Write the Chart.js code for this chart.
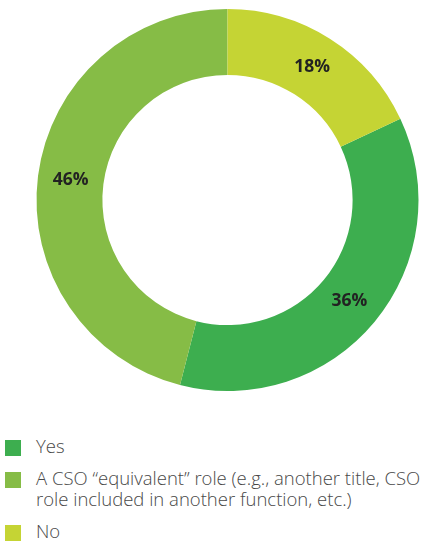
<!DOCTYPE html>
<html>
<head>
<meta charset="utf-8">
<script src="https://cdn.jsdelivr.net/npm/chart.js@4"></script>
<style>
    html, body {
        margin: 0;
        padding: 0;
        background: #ffffff;
    }
    body {
        width: 423px;
        height: 547px;
        overflow: hidden;
        font-family: "Open Sans", sans-serif;
    }
    #chart-box {
        position: relative;
        width: 423px;
        height: 400px;
    }
    #legend {
        list-style: none;
        margin: 0;
        padding: 0;
        position: absolute;
        left: 5px;
        top: 435px;
        width: 418px;
    }
    #legend li {
        display: flex;
        align-items: flex-start;
        margin-bottom: 11px;
        font-size: 18.5px;
        font-weight: 300;
        line-height: 21px;
        color: #484848;
    }
    #legend .box {
        flex: none;
        width: 16px;
        height: 16px;
        margin-top: 5px;
        margin-right: 15px;
    }
</style>
</head>
<body>
<div id="chart-box">
    <canvas id="cso-chart"></canvas>
</div>
<ul id="legend"></ul>

<script>
const categories = [
    "Yes",
    "A CSO \u201cequivalent\u201d role (e.g., another title, CSO role included in another function, etc.)",
    "No",
];
const shares = [36, 46, 18];
const colors = ["#3dae4f", "#86bc46", "#c5d434"];

// percentage text drawn in the middle of each ring segment
const sliceLabels = {
    id: "sliceLabels",
    afterDatasetsDraw(chart) {
        const ctx = chart.ctx;
        const meta = chart.getDatasetMeta(0);
        ctx.save();
        ctx.font = "bold 17.5px 'Open Sans', sans-serif";
        ctx.fillStyle = "#222222";
        ctx.textAlign = "center";
        ctx.textBaseline = "middle";
        meta.data.forEach((arc, i) => {
            const pos = arc.tooltipPosition();
            ctx.fillText(shares[i] + "%", pos.x, pos.y);
        });
        ctx.restore();
    },
};

function buildLegend(chart) {
    const list = document.getElementById("legend");
    list.innerHTML = "";
    chart.data.labels.forEach((label, i) => {
        const item = document.createElement("li");
        const box = document.createElement("span");
        box.className = "box";
        box.style.background = chart.data.datasets[0].backgroundColor[i];
        const text = document.createElement("span");
        text.textContent = label;
        item.appendChild(box);
        item.appendChild(text);
        list.appendChild(item);
    });
}

function initChart() {
    const ctx = document.getElementById("cso-chart");
    const chart = new Chart(ctx, {
        type: "doughnut",
        data: {
            labels: categories,
            datasets: [
                {
                    data: shares,
                    backgroundColor: colors,
                    borderWidth: 0,
                },
            ],
        },
        options: {
            responsive: true,
            maintainAspectRatio: false,
            animation: false,
            cutout: "65.5%",
            rotation: (shares[2] / 100) * 360,
            layout: {
                padding: { left: 32, right: 0, top: 9, bottom: 9 },
            },
            plugins: {
                legend: { display: false },
                tooltip: { enabled: false },
            },
        },
        plugins: [sliceLabels],
    });
    buildLegend(chart);
}

document.addEventListener("DOMContentLoaded", () => {
    initChart();
});
</script>
</body>
</html>
